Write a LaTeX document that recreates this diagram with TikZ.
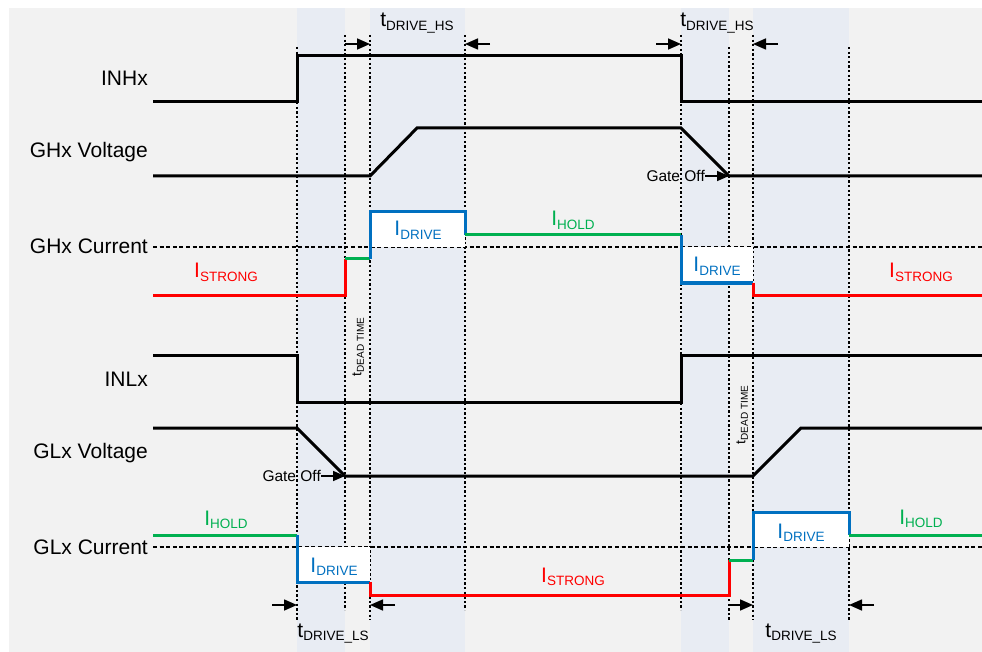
\documentclass[tikz,border=0pt]{standalone}
\usepackage{fontspec}
\setmainfont{Liberation Sans}
\usetikzlibrary{arrows.meta}
\definecolor{bgc}{HTML}{F2F2F2}
\definecolor{stripc}{HTML}{E8ECF3}
\definecolor{ired}{HTML}{FF0000}
\definecolor{igreen}{HTML}{00B050}
\definecolor{iblue}{HTML}{0070C0}
\newcommand{\subtxt}[1]{\raisebox{-3.5pt}{\fontsize{13.5}{14}\selectfont #1}}
\newcommand{\dtsub}[1]{\raisebox{-2.5pt}{\fontsize{10}{11}\selectfont #1}}
\begin{document}
\begin{tikzpicture}[x=1pt,y=-1pt,
  sigblack/.style={line width=3pt,black,line join=miter},
  sigred/.style={line width=3pt,ired},
  siggreen/.style={line width=3pt,igreen},
  sigblue/.style={line width=3pt,iblue},
  dotv/.style={line width=2.3pt,black,dash pattern=on 2.3pt off 2.3pt},
  basedash/.style={line width=2.2pt,black,dash pattern=on 4pt off 2.6pt},
  dimarrow/.style={line width=1.6pt,black,-{Triangle[length=13pt,width=11pt]}},
  gatearrow/.style={line width=1.6pt,black,-{Triangle[length=12pt,width=10pt]}},
  rowlbl/.style={font=\fontsize{21}{24}\selectfont,anchor=base east,inner sep=0pt},
  curlbl/.style={font=\fontsize{21}{24}\selectfont,anchor=base,inner sep=0pt},
  gatelbl/.style={font=\fontsize{15.5}{18}\selectfont,anchor=east,inner sep=0pt},
  deadlbl/.style={font=\fontsize{14}{16}\selectfont,rotate=90,inner sep=0pt},
  whitebox/.style={fill=white,draw=none}]
\useasboundingbox (0,0) rectangle (982,652);
% background and time strips
\fill[bgc] (9,8) rectangle (982,652);
\fill[stripc] (297,8) rectangle (345,652);
\fill[stripc] (370,8) rectangle (465,652);
\fill[stripc] (681,8) rectangle (729,652);
\fill[stripc] (753,8) rectangle (849,652);
% current baselines
\draw[basedash] (153,247) -- (982,247);
\draw[basedash] (153,547) -- (982,547);
% vertical dotted time markers
\draw[dotv] (297,47) -- (297,620);
\draw[dotv] (345,35) -- (345,610);
\draw[dotv] (370,35) -- (370,620);
\draw[dotv] (465,35) -- (465,610);
\draw[dotv] (681,35) -- (681,610);
\draw[dotv] (729,47) -- (729,620);
\draw[dotv] (753,35) -- (753,620);
\draw[dotv] (849,47) -- (849,620);
% white drive boxes
\fill[whitebox] (370,212) rectangle (465,247);
\fill[whitebox] (681,247) rectangle (753,283);
\fill[whitebox] (297,547) rectangle (370,582);
\fill[whitebox] (753,512) rectangle (849,547);
% INHx
\draw[sigblack] (153,102) -- (297,102) -- (297,56) -- (681,56) -- (681,102) -- (982,102);
% GHx voltage
\coordinate (ghoff) at (729,176);
\draw[sigblack] (153,176) -- (370,176) -- (417,128) -- (681,128) -- (ghoff) -- (982,176);
% GHx current
\draw[sigred] (153,295) -- (345,295) -- (345,259);
\draw[siggreen] (345,259) -- (370,259);
\draw[sigblue] (370,259) -- (370,212) -- (465,212) -- (465,235);
\draw[siggreen] (465,235) -- (681,235);
\draw[sigblue] (681,235) -- (681,283) -- (753,283);
\draw[sigred] (753,283) -- (753,295) -- (982,295);
% INLx
\draw[sigblack] (153,355) -- (297,355) -- (297,402) -- (681,402) -- (681,355) -- (982,355);
% GLx voltage
\coordinate (gloff) at (345,476);
\draw[sigblack] (153,428) -- (297,428) -- (gloff) -- (753,476) -- (801,428) -- (982,428);
% GLx current
\draw[siggreen] (153,535) -- (297,535);
\draw[sigblue] (297,535) -- (297,582) -- (370,582);
\draw[sigred] (370,582) -- (370,595) -- (729,595) -- (729,560);
\draw[siggreen] (729,560) -- (753,560);
\draw[sigblue] (753,560) -- (753,512) -- (849,512) -- (849,535);
\draw[siggreen] (849,535) -- (982,535);
% row labels
\node[rowlbl] (linhx) at (148,86) {INHx};
\node[rowlbl] (lghv) at (148,158) {GHx Voltage};
\node[rowlbl] (lghi) at (148,254) {GHx Current};
\node[rowlbl] (linlx) at (148,386) {INLx};
\node[rowlbl] (lglv) at (148,458) {GLx Voltage};
\node[rowlbl] (lgli) at (148,554) {GLx Current};
% current labels
\node[curlbl,text=ired] (hs1) at (226,278) {I\subtxt{STRONG}};
\node[curlbl,text=ired] (hs2) at (921,278) {I\subtxt{STRONG}};
\node[curlbl,text=iblue] (hd1) at (418,236) {I\subtxt{DRIVE}};
\node[curlbl,text=igreen] (hh1) at (573,226) {I\subtxt{HOLD}};
\node[curlbl,text=iblue] (hd2) at (717,272) {I\subtxt{DRIVE}};
\node[curlbl,text=igreen] (lh1) at (226,525) {I\subtxt{HOLD}};
\node[curlbl,text=iblue] (ld1) at (334,572) {I\subtxt{DRIVE}};
\node[curlbl,text=ired] (ls1) at (573,582) {I\subtxt{STRONG}};
\node[curlbl,text=iblue] (ld2) at (801,538) {I\subtxt{DRIVE}};
\node[curlbl,text=igreen] (lh2) at (921,524) {I\subtxt{HOLD}};
% gate off labels
\node[gatelbl] (gateH) at (705,176) {Gate Off};
\draw[gatearrow] (gateH.east) -- (ghoff);
\node[gatelbl] (gateL) at (321,476) {Gate Off};
\draw[gatearrow] (gateL.east) -- (gloff);
% dead time labels
\node[deadlbl] (dt1) at (358,347) {t\dtsub{DEAD TIME}};
\node[deadlbl] (dt2) at (742,415) {t\dtsub{DEAD TIME}};
% drive time labels and arrows
\node[curlbl] (tdhs1) at (417,27) {t\subtxt{DRIVE\_HS}};
\node[curlbl] (tdhs2) at (717,27) {t\subtxt{DRIVE\_HS}};
\node[curlbl] (tdls1) at (333,637) {t\subtxt{DRIVE\_LS}};
\node[curlbl] (tdls2) at (801,637) {t\subtxt{DRIVE\_LS}};
\coordinate (a1s) at (345,44); \coordinate (a1e) at (370,44);
\coordinate (a2s) at (490,44); \coordinate (a2e) at (465,44);
\coordinate (a3s) at (656,44); \coordinate (a3e) at (681,44);
\coordinate (a4s) at (778,44); \coordinate (a4e) at (753,44);
\coordinate (b1s) at (272,605); \coordinate (b1e) at (297,605);
\coordinate (b2s) at (395,605); \coordinate (b2e) at (370,605);
\coordinate (b3s) at (729,605); \coordinate (b3e) at (753,605);
\coordinate (b4s) at (874,605); \coordinate (b4e) at (849,605);
\draw[dimarrow] (a1s) -- (a1e);
\draw[dimarrow] (a2s) -- (a2e);
\draw[dimarrow] (a3s) -- (a3e);
\draw[dimarrow] (a4s) -- (a4e);
\draw[dimarrow] (b1s) -- (b1e);
\draw[dimarrow] (b2s) -- (b2e);
\draw[dimarrow] (b3s) -- (b3e);
\draw[dimarrow] (b4s) -- (b4e);
\end{tikzpicture}
\end{document}
